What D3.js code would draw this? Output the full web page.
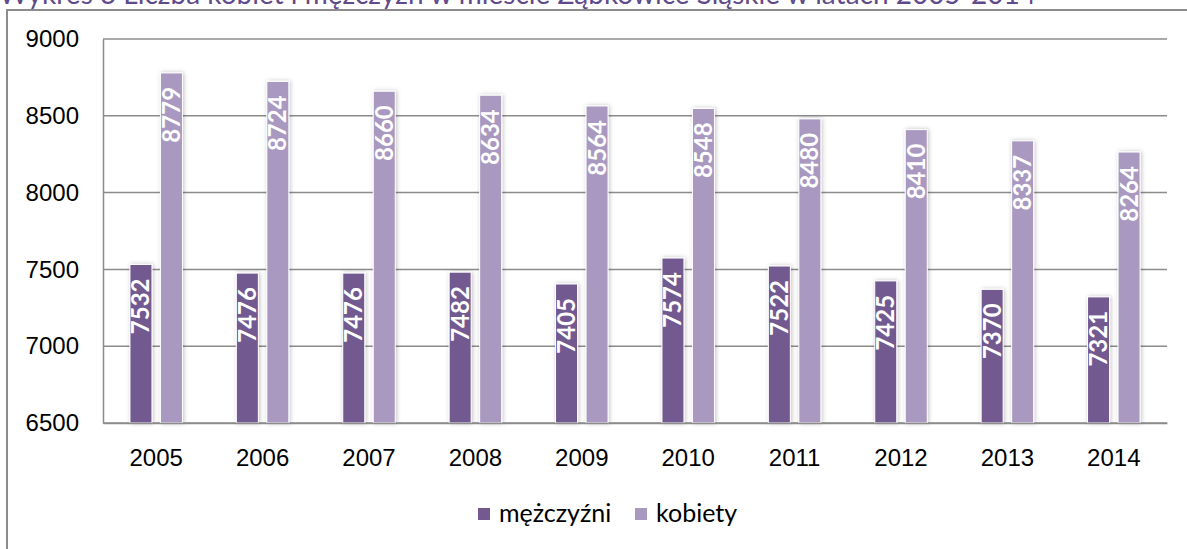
<!DOCTYPE html>
<html>
<head>
<meta charset="utf-8">
<script src="https://cdn.jsdelivr.net/npm/d3@7"></script>
<style>
  body { margin: 0; background: #fff; }
  svg { display: block; font-family: Lato, "Open Sans", sans-serif; }
</style>
</head>
<body>
<div id="chart"></div>
<script>
// data
const years = ["2005", "2006", "2007", "2008", "2009", "2010", "2011", "2012", "2013", "2014"];
const men = [7532, 7476, 7476, 7482, 7405, 7574, 7522, 7425, 7370, 7321];
const women = [8779, 8724, 8660, 8634, 8564, 8548, 8480, 8410, 8337, 8264];
const seriesNames = ["mężczyźni", "kobiety"];
const seriesColors = ["#725a91", "#a999c0"];
const yTicks = [6500, 7000, 7500, 8000, 8500, 9000];
const title = "Wykres 3 Liczba kobiet i mężczyzn w mieście Ząbkowice Śląskie w latach 2005-2014";

const W = 1187, H = 549;
const margin = { top: 39, right: 20, bottom: 126, left: 103 },
    width = W - margin.left - margin.right,
    height = H - margin.top - margin.bottom;

const svg = d3.select("#chart")
    .append("svg")
    .attr("width", W)
    .attr("height", H);

// soft shadow behind the bars
const defs = svg.append("defs");
const f = defs.append("filter").attr("id", "shadow")
    .attr("x", "-50%").attr("y", "-10%").attr("width", "200%").attr("height", "120%");
f.append("feDropShadow")
    .attr("dx", 1).attr("dy", 0).attr("stdDeviation", 2)
    .attr("flood-color", "#000").attr("flood-opacity", 0.25);

// title, cut off at the top like in the source
svg.append("text")
    .attr("x", -1)
    .attr("y", 4)
    .attr("fill", "#5f4b8b")
    .style("font-size", "28px")
    .text(title);

// outer frame
svg.append("path")
    .attr("d", `M7,${H + 2} V10 H${W + 2}`)
    .attr("fill", "none")
    .attr("stroke", "#8c8c8c")
    .attr("stroke-width", 2);

const g = svg.append("g")
    .attr("transform", "translate(" + margin.left + "," + margin.top + ")");

const x = d3.scaleBand().domain(years).range([0, width]);
const y = d3.scaleLinear().domain([6500, 9000]).range([height, 0]);

// gridlines
g.selectAll("line.grid")
    .data(yTicks)
    .enter()
    .append("line")
    .attr("class", "grid")
    .attr("x1", 0).attr("x2", width)
    .attr("y1", d => y(d)).attr("y2", d => y(d))
    .style("stroke", "#8c8c8c")
    .style("stroke-width", 1.5);

// y axis
const yAxis = g.append("g")
    .call(d3.axisLeft(y).tickValues(yTicks).tickFormat(d3.format("d")).tickSize(0).tickPadding(24));
yAxis.select(".domain").attr("stroke", "#8c8c8c").attr("stroke-width", 1.5);
yAxis.selectAll("text").style("font-size", "24px").attr("fill", "#000");

const barW = 22, gap = 8.5;
const series = [men, women];

series.forEach((vals, si) => {
    const off = si === 0 ? -gap / 2 - barW : gap / 2;
    const bars = g.selectAll("g.s" + si)
        .data(vals)
        .enter()
        .append("g")
        .attr("class", "s" + si);

    bars.append("rect")
        .attr("x", (d, i) => x(years[i]) + x.bandwidth() / 2 + off)
        .attr("y", d => y(d))
        .attr("width", barW)
        .attr("height", d => height - y(d))
        .attr("fill", seriesColors[si])
        .attr("stroke", "#fff")
        .attr("stroke-width", 1)
        .attr("filter", "url(#shadow)");

    bars.append("text")
        .attr("transform", (d, i) => {
            const cx = x(years[i]) + x.bandwidth() / 2 + off + barW / 2;
            return "translate(" + (cx + 8.5) + "," + (y(d) + 14) + ") rotate(-90)";
        })
        .attr("text-anchor", "end")
        .attr("fill", "#fff")
        .style("font-size", "24px")
        .style("font-weight", "bold")
        .text(d => d);
});

// x axis
const xAxis = g.append("g")
    .attr("transform", "translate(0," + height + ")")
    .call(d3.axisBottom(x).tickSize(0).tickPadding(26));
xAxis.select(".domain").attr("stroke", "#8c8c8c").attr("stroke-width", 1.5);
xAxis.selectAll("text").style("font-size", "24px").attr("fill", "#000");

// legend
const legend = svg.append("g").attr("transform", "translate(478,508)");
const items = legend.selectAll("g")
    .data(seriesNames)
    .enter()
    .append("g")
    .attr("transform", (d, i) => "translate(" + (i * 157) + ",0)");
items.append("rect")
    .attr("width", 12).attr("height", 12)
    .attr("fill", (d, i) => seriesColors[i]);
items.append("text")
    .attr("x", 21).attr("y", 14)
    .style("font-size", "25px")
    .attr("fill", "#000")
    .text(d => d);
</script>
</body>
</html>
